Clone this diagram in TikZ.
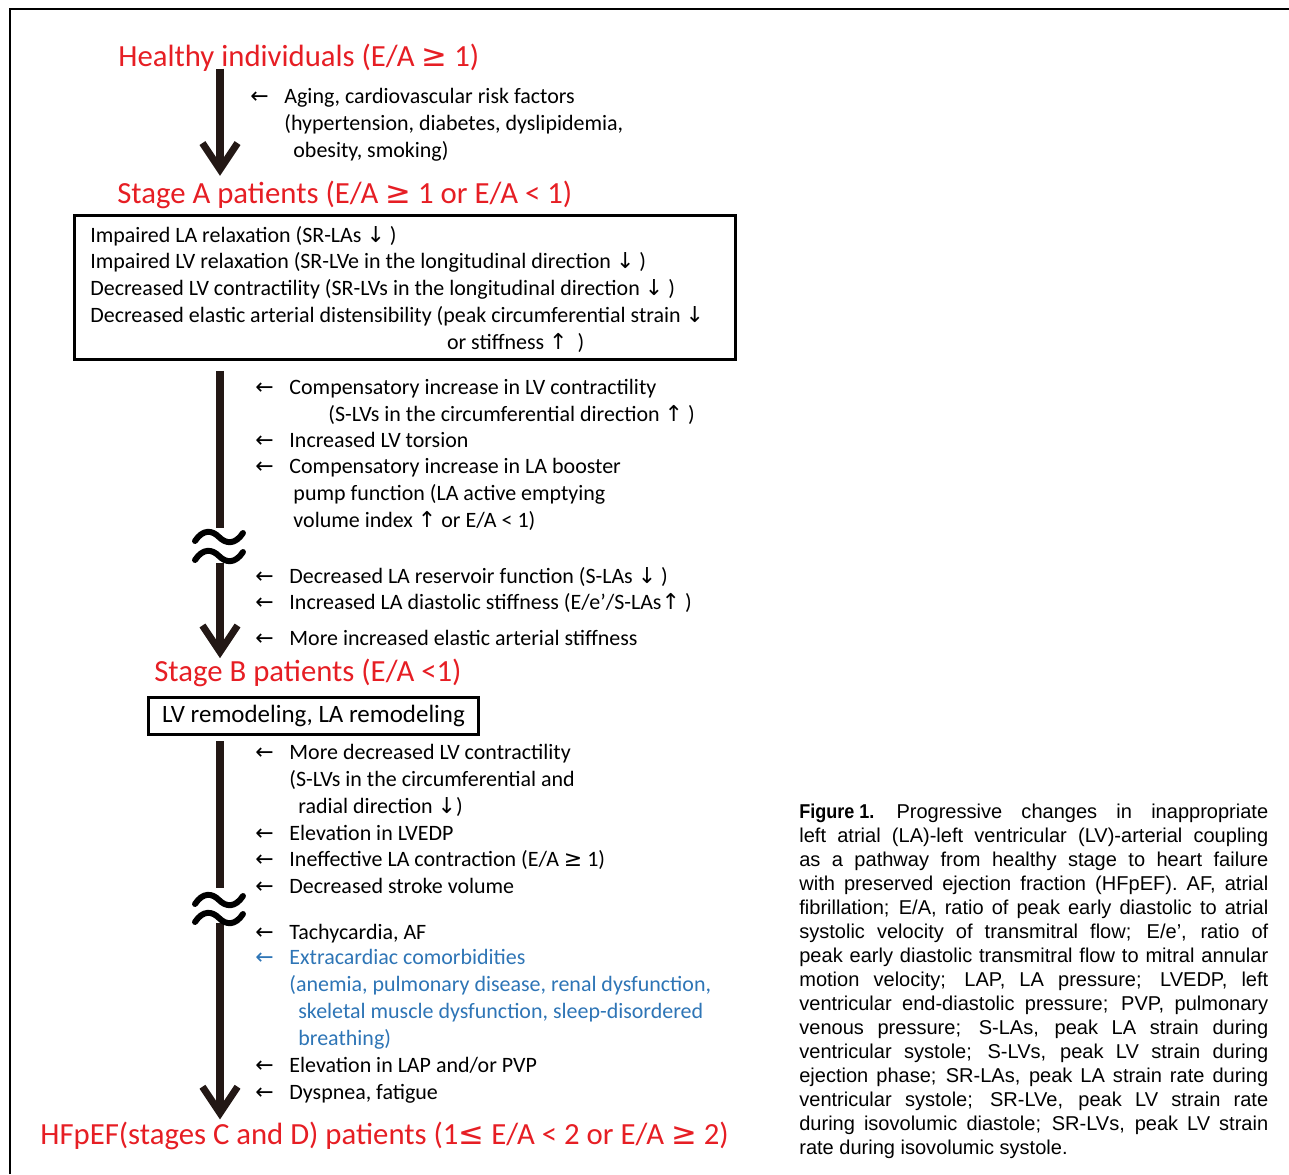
\documentclass[tikz,border=0pt]{standalone}
\usepackage{fontspec}
\setmainfont{Carlito}
\newfontfamily\symfont{DejaVu Sans}
\newfontfamily\capfont{Liberation Sans}
\usetikzlibrary{arrows.meta}

\definecolor{titlered}{RGB}{230,30,36}
\definecolor{notesblue}{RGB}{46,117,182}
\definecolor{inkdark}{RGB}{35,24,21}

\newcommand{\sym}[1]{{\symfont #1}}
\newcommand{\la}{\makebox[19.4pt][l]{\sym{←}}}
\newcommand{\ind}[1][0pt]{\hspace*{\dimexpr19.4pt+#1\relax}}

\begin{document}
\begin{tikzpicture}[
        x=0.02cm, y=-0.02cm,
        stagetitle/.style={anchor=base west, inner sep=0pt, text=titlered,
            font=\fontsize{17.5}{21}\selectfont},
        note/.style={anchor=base west, inner sep=0pt, align=left,
            font=\fontsize{12.5}{15.2}\selectfont},
        findbox/.style={draw=black, line width=1.7pt, inner sep=0pt},
        outline/.style={draw=black, line width=1.7pt},
        spine/.style={draw=inkdark, line width=4pt},
        spinetip/.style={spine, -{Straight Barb[length=15pt, width=20pt]}},
        wave/.style={draw=black, line width=3.4pt, line cap=round}
    ]
        \useasboundingbox (0,0) rectangle (1289,1174);

        % Marco exterior
        \draw[outline] (10,1174) -- (10,9) -- (1289,9);

        % Etapas
        \node[stagetitle] (healthy) at (118,66) {Healthy individuals (E/A \sym{≥} 1)};
        \node[stagetitle] (stageA) at (117,203) {Stage A patients (E/A \sym{≥} 1 or E/A < 1)};
        \node[stagetitle] (stageB) at (154,681) {Stage B patients (E/A <1)};
        \node[stagetitle] (hfpef) at (40,1144) {HFpEF(stages C and D) patients (1\sym{≤} E/A < 2 or E/A \sym{≥} 2)};

        % Cajas (multi-line nodes sit on their last baseline)
        \node[findbox, anchor=north west, minimum width=13.22cm, minimum height=2.88cm] (findA) at (73,214) {};
        \node[note] (findAtext) at (90,349) {
            Impaired LA relaxation (SR-LAs \sym{↓} )\\
            Impaired LV relaxation (SR-LVe in the longitudinal direction \sym{↓} )\\
            Decreased LV contractility (SR-LVs in the longitudinal direction \sym{↓} )\\
            Decreased elastic arterial distensibility (peak circumferential strain \sym{↓}\\
            \hspace*{203pt}or stiffness \sym{↑} \ )
        };
        \node[findbox, minimum width=6.62cm, minimum height=0.74cm,
            font=\fontsize{14.2}{17}\selectfont] (remodel) at (313.5,715.5) {LV remodeling, LA remodeling};

        % Eje de progresion
        \coordinate (spine) at (220,0);
        \coordinate (breakAtop) at (220,528);
        \coordinate (breakAbot) at (220,563);
        \coordinate (breakBtop) at (220,888);
        \coordinate (breakBbot) at (220,923);

        \draw[spinetip, shorten <=-1.5pt, shorten >=2.5pt] (healthy.south -| spine) -- (stageA.north -| spine);
        \draw[spine, shorten <=5.7pt] (findA.south -| spine) -- (breakAtop);
        \draw[spinetip] (breakAbot) -- (stageB.north -| spine);
        \draw[spine, shorten <=3.4pt] (remodel.south -| spine) -- (breakBtop);
        \draw[spinetip, shorten >=1pt] (breakBbot) -- (hfpef.north -| spine);

        % Cortes
        \foreach \w in {537,556,900,918}
            \draw[wave] (195,\w+4) .. controls (203,\w-8) and (212,\w-7) .. (219,\w)
                .. controls (226,\w+7) and (235,\w+8) .. (243,\w-4);

        % Factores: sanos -> A
        \node[note] (aging) at (250,157) {
            \la Aging, cardiovascular risk factors\\
            \ind(hypertension, diabetes, dyslipidemia,\\
            \ind[5.1pt]obesity, smoking)
        };

        % Factores: A -> B
        \node[note] (compLV) at (255,421) {
            \la Compensatory increase in LV contractility\\
            \ind[22.2pt](S-LVs in the circumferential direction \sym{↑} )
        };
        \node[note] (torsion) at (255,447) {\la Increased LV torsion};
        \node[note] (booster) at (255,527) {
            \la Compensatory increase in LA booster\\
            \ind[2.3pt]pump function (LA active emptying\\
            \ind[2.3pt]volume index \sym{↑} or E/A < 1)
        };
        \node[note] (reservoir) at (255,583) {\la Decreased LA reservoir function (S-LAs \sym{↓} )};
        \node[note] (stiffLA) at (255,609) {\la Increased LA diastolic stiffness (E/e’/S-LAs\sym{↑} )};
        \node[note] (arterial) at (255,645) {\la More increased elastic arterial stiffness};

        % Factores: B -> C/D
        \node[note] (moreLV) at (255,813) {
            \la More decreased LV contractility\\
            \ind(S-LVs in the circumferential and\\
            \ind[5.1pt]radial direction \sym{↓})
        };
        \node[note] (lvedp) at (255,840) {\la Elevation in LVEDP};
        \node[note] (ineffLA) at (255,866) {\la Ineffective LA contraction (E/A \sym{≥} 1)};
        \node[note] (stroke) at (255,893) {\la Decreased stroke volume};
        \node[note] (tachy) at (255,939) {\la Tachycardia, AF};
        \node[note, text=notesblue] (extra) at (255,1045) {
            \la Extracardiac comorbidities\\
            \ind(anemia, pulmonary disease, renal dysfunction,\\
            \ind[5.1pt]skeletal muscle dysfunction, sleep-disordered\\
            \ind[5.1pt]breathing)
        };
        \node[note] (lap) at (255,1072) {\la Elevation in LAP and/or PVP};
        \node[note] (dyspnea) at (255,1099) {\la Dyspnea, fatigue};

        % Leyenda
        \node[anchor=base west, inner sep=0pt, text width=9.38cm, align=justify,
            font=\capfont\fontsize{11.4}{13.66}\selectfont] (caption) at (799,818) {%
            \tolerance=10000 \hyphenpenalty=10000
            \scalebox{0.9}[1]{\bfseries Figure 1.}\hspace{1.1em}Progressive changes in inappropriate\linebreak
            left atrial (LA)-left ventricular (LV)-arterial coupling\linebreak
            as a pathway from healthy stage to heart failure\linebreak
            with preserved ejection fraction (HFpEF). AF, atrial\linebreak
            fibrillation; E/A, ratio of peak early diastolic to atrial\linebreak
            systolic velocity of transmitral flow; E/e’, ratio of\linebreak
            peak early diastolic transmitral flow to mitral annular\linebreak
            motion velocity; LAP, LA pressure; LVEDP, left\linebreak
            ventricular end-diastolic pressure; PVP, pulmonary\linebreak
            venous pressure; S-LAs, peak LA strain during\linebreak
            ventricular systole; S-LVs, peak LV strain during\linebreak
            ejection phase; SR-LAs, peak LA strain rate during\linebreak
            ventricular systole; SR-LVe, peak LV strain rate\linebreak
            during isovolumic diastole; SR-LVs, peak LV strain\linebreak
            rate during isovolumic systole.};

    \end{tikzpicture}
\end{document}
